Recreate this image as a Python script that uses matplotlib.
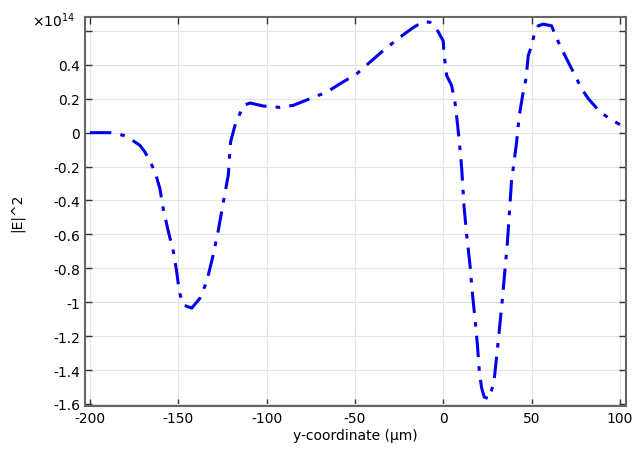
import matplotlib.pyplot as plt
import numpy as np

plt.rcParams['axes.unicode_minus'] = False

# |E|^2 along y, values in units of 1e14
y_um = [-200, -188.7, -181, -177.4, -171.7, -168.9, -166, -163.2, -160.4, -158.5,
        -155.7, -152.8, -150.9, -149.4, -147.2, -142.4, -137.7, -133.9, -130.2, -127.4,
        -124.5, -121.7, -120.4, -117.9, -113.2, -109.4, -101.9, -92.5, -84.9, -75.5,
        -66, -58.5, -49, -41.5, -34, -24.5, -17, -11.3, -7.5, -3.8,
        0, 0.3, 1.9, 4.7, 6.6, 7.9, 9.1, 10.4, 11.7, 13.2, 15.1,
        16.4, 17.9, 19.3, 20.4, 21.7, 23.2, 26, 28.7, 30.5, 32,
        33.5, 34.8, 36.2, 37.3, 38.7, 39.6, 41.5, 43, 44.9, 46.8,
        48.1, 50, 51.5, 53.7, 56.6, 61.3, 63.2, 66, 69.8, 73.6,
        78.3, 82.1, 88.7, 94.3, 100]
E2 = [0, 0, -0.016, -0.035, -0.075, -0.114, -0.17, -0.23, -0.33, -0.45,
      -0.58, -0.70, -0.82, -0.94, -1.016, -1.035, -0.976, -0.878, -0.72, -0.58,
      -0.41, -0.25, -0.055, 0.043, 0.16, 0.175, 0.157, 0.149, 0.161, 0.2,
      0.239, 0.288, 0.347, 0.416, 0.484, 0.563, 0.62, 0.655, 0.651, 0.612,
      0.54, 0.475, 0.337, 0.278, 0.18, 0.063, -0.055, -0.21, -0.43, -0.60, -0.78,
      -0.94, -1.094, -1.25, -1.41, -1.506, -1.56, -1.569, -1.467, -1.29, -1.133,
      -0.976, -0.82, -0.66, -0.49, -0.27, -0.21, -0.055, 0.10, 0.22, 0.318,
      0.455, 0.514, 0.58, 0.63, 0.64, 0.63, 0.58, 0.514, 0.435, 0.357,
      0.259, 0.2, 0.122, 0.082, 0.047]

xticks = [-200, -150, -100, -50, 0, 50, 100]
yticks = [-1.6, -1.4, -1.2, -1, -0.8, -0.6, -0.4, -0.2, 0, 0.2, 0.4, 0.6]
ylabels = ['-1.6', '-1.4', '-1.2', '-1', '-0.8', '-0.6', '-0.4', '-0.2', '0', '0.2', '0.4', '']

fig = plt.figure(figsize=(6.4, 4.56), dpi=100)
ax = fig.add_axes([0.1328, 0.1075, 0.8453, 0.853])
ax.plot(y_um, E2, color='#0000ee', lw=2.2, linestyle=(0, (7, 3, 1.5, 3)))

ax.set_xlim(-202.8, 103.4)
ax.set_ylim(-1.612, 0.682)
ax.set_xticks(xticks)
ax.set_yticks(yticks)
ax.set_yticklabels(ylabels)
ax.grid(True, color='#e3e3e3', lw=0.8)
ax.tick_params(direction='in', top=True, right=True, length=5, width=1,
               color='#333333', labelsize=10)
for s in ax.spines.values():
    s.set_color('#666666')
    s.set_linewidth(1.5)

ax.set_xlabel('y-coordinate (µm)', fontsize=10, labelpad=2)
ax.set_ylabel('|E|^2', fontsize=10, labelpad=21)
fig.text(0.05, 0.955, '×10$^{14}$', fontsize=10, va='center')

fig.savefig('out.png')
